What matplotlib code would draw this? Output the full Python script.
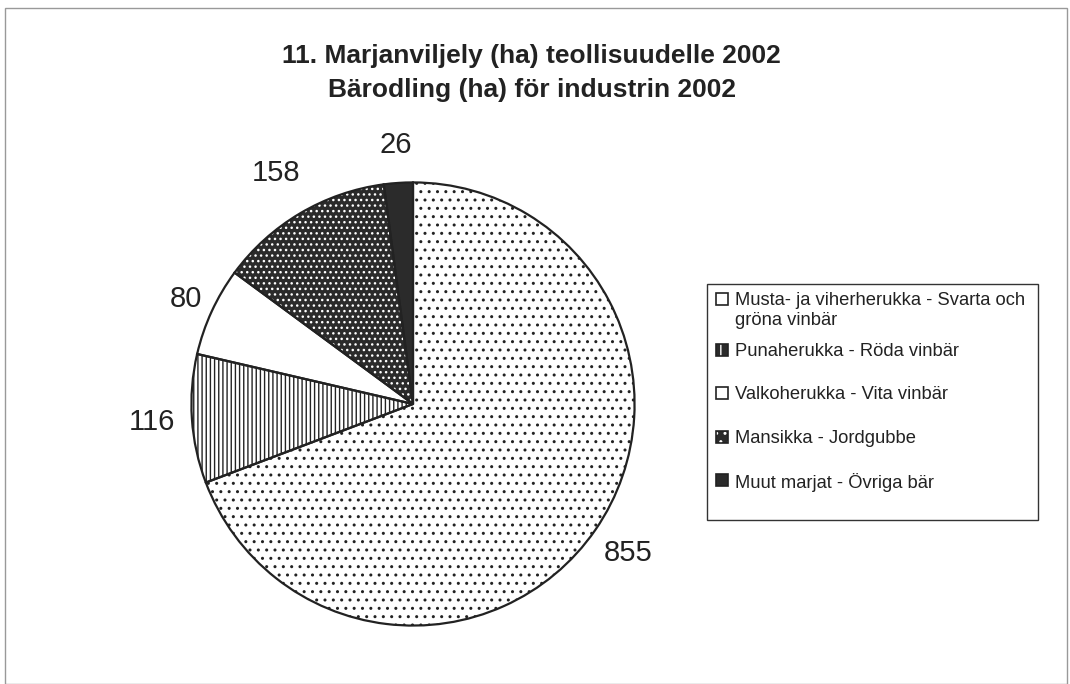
import numpy as np
import matplotlib.pyplot as plt
from matplotlib.patches import Rectangle
from matplotlib import font_manager

names = {f.name for f in font_manager.fontManager.ttflist}
title_font = 'Liberation Sans Narrow' if 'Liberation Sans Narrow' in names else 'Liberation Sans'

plt.rcParams['font.family'] = ['Liberation Sans', 'DejaVu Sans']
plt.rcParams['hatch.linewidth'] = 1.0

# data
labels = ['Musta- ja viherherukka - Svarta och\ngröna vinbär',
          'Punaherukka - Röda vinbär',
          'Valkoherukka - Vita vinbär',
          'Mansikka - Jordgubbe',
          'Muut marjat - Övriga bär']
values = [855, 116, 80, 158, 26]

# styles: facecolor, hatch, hatch colour
faces = ['white', 'white', 'white', '#2b2b2b', '#2b2b2b']
hatches = ['..', '||||', '', '...', '']
hatch_cols = ['#222222', '#222222', 'white', 'white', '#2b2b2b']
label_r = [1.18, 1.18, 1.13, 1.21, 1.17]

W, H = 1070, 684
fig = plt.figure(figsize=(W / 100, H / 100), dpi=100)


def fx(px):
    return px / W


def fy(py):
    return 1 - py / H


# page frame
fig.add_artist(Rectangle((fx(5), 0.0), fx(1062), 1 - 8 / H,
                         transform=fig.transFigure, fill=False,
                         edgecolor='#999999', linewidth=1))

cx, cy, r = 413, 404, 226
ax = fig.add_axes([fx(cx - r), (H - cy - r) / H, 2 * r / W, 2 * r / H])

# fill layer (hatch colour taken from edgecolor)
wedges, _ = ax.pie(values, startangle=90, counterclock=False, radius=1)
for w, fc, h, hc in zip(wedges, faces, hatches, hatch_cols):
    w.set_facecolor(fc)
    w.set_hatch(h)
    w.set_edgecolor(hc)
    w.set_linewidth(0)

# outline layer
ax.pie(values, startangle=90, counterclock=False, radius=1,
       wedgeprops=dict(fill=False, edgecolor='#222222', linewidth=1.6))

for w, v, lr in zip(wedges, values, label_r):
    ang = np.deg2rad((w.theta1 + w.theta2) / 2)
    ax.text(lr * np.cos(ang), lr * np.sin(ang), str(v), fontsize=21,
            ha='center', va='center', color='#222222')

ax.set_xlim(-1.02, 1.02)
ax.set_ylim(-1.02, 1.02)
ax.set_aspect('equal')
ax.axis('off')

tsize = 21.8 if title_font != 'Liberation Sans' else 19
fig.text(0.497, fy(56), '11. Marjanviljely (ha) teollisuudelle 2002',
         ha='center', va='center', fontsize=tsize, fontweight='bold',
         family=title_font, color='#222222')
fig.text(0.497, fy(90), 'Bärodling (ha) för industrin 2002',
         ha='center', va='center', fontsize=tsize, fontweight='bold',
         family=title_font, color='#222222')

# legend drawn by hand (box + swatches + texts)
fig.add_artist(Rectangle((fx(707), fy(520)), fx(1038 - 707), (520 - 284) / H,
                         transform=fig.transFigure, fill=False,
                         edgecolor='#333333', linewidth=1))
leg_faces = ['white', '#2b2b2b', 'white', '#2b2b2b', '#2b2b2b']
leg_hatch = ['', '||', '', '..', '']
leg_hc = ['#222222', 'white', '#222222', 'white', '#2b2b2b']
row_y = [299, 350, 393, 437, 480]
sw = 12
for lab, fc, h, hc, yy in zip(labels, leg_faces, leg_hatch, leg_hc, row_y):
    fig.add_artist(Rectangle((fx(716), fy(yy + sw / 2)), sw / W, sw / H,
                             transform=fig.transFigure, facecolor=fc,
                             hatch=h, edgecolor=hc, linewidth=0))
    fig.add_artist(Rectangle((fx(716), fy(yy + sw / 2)), sw / W, sw / H,
                             transform=fig.transFigure, fill=False,
                             edgecolor='#222222', linewidth=1.2))
    fig.text(fx(735), fy(yy - 7), lab, ha='left', va='top', fontsize=13.2,
             linespacing=1.22, color='#222222')

fig.savefig('out.png', dpi=100)
